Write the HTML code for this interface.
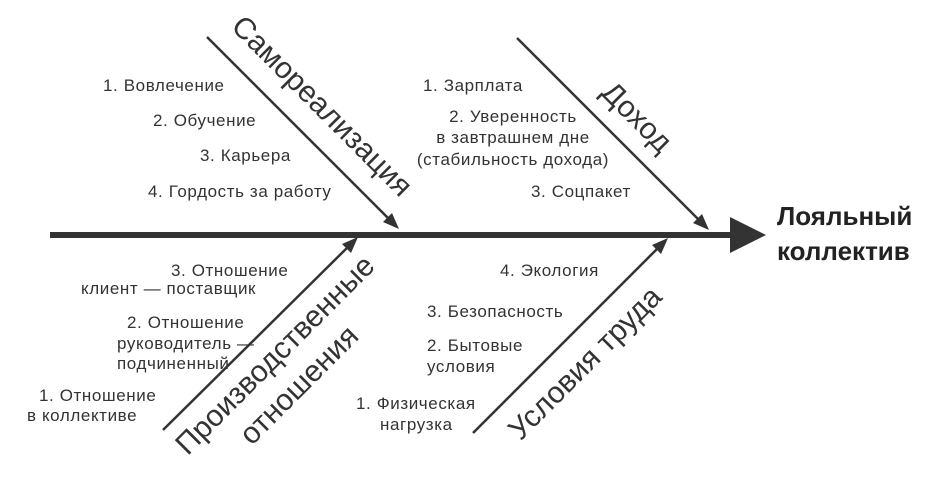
<!DOCTYPE html>
<html><head><meta charset="utf-8"><style>
html,body{margin:0;padding:0;background:#fff;}
svg text{font-family:"Liberation Sans","DejaVu Sans",sans-serif;fill:#333;}
</style></head><body>
<svg width="940" height="490" viewBox="0 0 940 490" xmlns="http://www.w3.org/2000/svg">
<line x1="50" y1="235" x2="733" y2="235" stroke="#333" stroke-width="6"/>
<path d="M730,217 L766,235 L730,253 z" fill="#333"/>
<g stroke="#333" stroke-width="2.5" fill="none">
<line x1="207" y1="37" x2="396" y2="226"/>
<line x1="517" y1="38" x2="706" y2="227"/>
<line x1="163" y1="430" x2="354" y2="241"/>
<line x1="473" y1="433" x2="664" y2="242"/>
</g>
<g fill="#333">
<path d="M399,229 L383,222 L392,213 z"/>
<path d="M709,230 L693,223 L702,214 z"/>
<path d="M358,237 L351,253 L342,244 z"/>
<path d="M668,238 L661,254 L652,245 z"/>
</g>
<text x="777" y="225" font-size="26" font-weight="bold" style="fill:#222">Лояльный</text>
<text x="777" y="260" font-size="26" font-weight="bold" style="fill:#222">коллектив</text>
<text font-size="30" text-anchor="middle" transform="translate(315,113) rotate(45)">Самореализация</text>
<text font-size="30" text-anchor="middle" transform="translate(630,124) rotate(45)">Доход</text>
<text font-size="30" text-anchor="middle" transform="translate(282,362) rotate(-45)">Производственные</text>
<text font-size="30" text-anchor="middle" transform="translate(306,392) rotate(-45)">отношения</text>
<text font-size="30" text-anchor="middle" transform="translate(592,370) rotate(-45)">Условия труда</text>
<g font-size="17" letter-spacing="0.6">
<text x="103" y="91">1. Вовлечение</text>
<text x="153" y="126">2. Обучение</text>
<text x="200" y="161">3. Карьера</text>
<text x="148" y="197">4. Гордость за работу</text>
<text x="423" y="91">1. Зарплата</text>
<text x="513" y="122" text-anchor="middle">2. Уверенность</text>
<text x="513" y="143" text-anchor="middle">в завтрашнем дне</text>
<text x="513" y="165" text-anchor="middle">(стабильность дохода)</text>
<text x="531" y="197">3. Соцпакет</text>
<text x="171" y="276">3. Отношение</text>
<text x="81" y="294">клиент  — поставщик</text>
<text x="127" y="328">2. Отношение</text>
<text x="117" y="349">руководитель —</text>
<text x="117" y="369">подчиненный</text>
<text x="39" y="401">1. Отношение</text>
<text x="27" y="421">в коллективе</text>
<text x="500" y="276">4. Экология</text>
<text x="427" y="317">3. Безопасность</text>
<text x="427" y="351">2. Бытовые</text>
<text x="427" y="372">условия</text>
<text x="356" y="409">1. Физическая</text>
<text x="380" y="430">нагрузка</text>
</g>
</svg>
</body></html>
